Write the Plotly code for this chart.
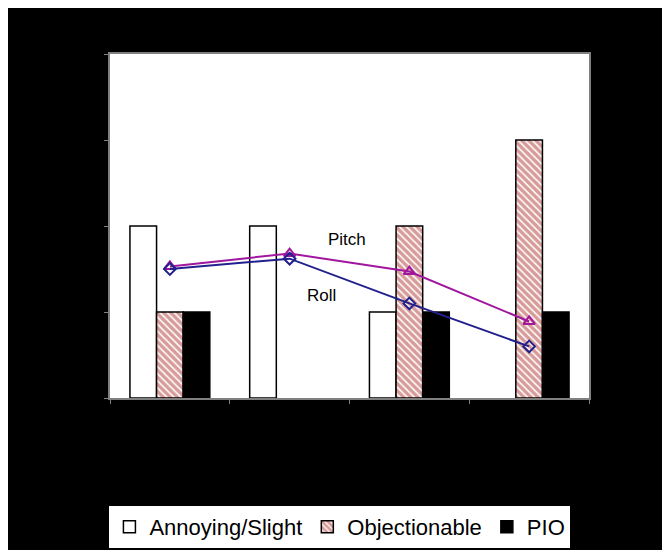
import plotly.graph_objects as go

categories = ["1", "2", "3", "4"]
annoying = [2, 2, 1, 0]
objectionable = [1, 0, 2, 3]
pio = [1, 0, 1, 1]
pitch = [1.53, 1.68, 1.47, 0.89]
roll = [1.50, 1.62, 1.10, 0.60]
y_ticks = [0, 1, 2, 3, 4]


def nz(vals):
    return [v if v else None for v in vals]


fig = go.Figure()
fig.add_trace(go.Bar(x=categories, y=nz(annoying), name="Annoying/Slight",
                     marker=dict(color="white", line=dict(color="black", width=1.5))))
fig.add_trace(go.Bar(x=categories, y=nz(objectionable), name="Objectionable",
                     marker=dict(color="white", line=dict(color="black", width=1.5),
                                 pattern=dict(shape="\\", fgcolor="#B03A36", bgcolor="white",
                                              size=5, solidity=0.7))))
fig.add_trace(go.Bar(x=categories, y=nz(pio), name="PIO",
                     marker=dict(color="black", line=dict(color="black", width=1.5))))
fig.add_trace(go.Scatter(x=categories, y=pitch, name="Pitch", mode="lines+markers",
                         showlegend=False,
                         line=dict(color="#A0169E", width=2),
                         marker=dict(symbol="triangle-up-open", size=10, color="#A0169E",
                                     line=dict(width=2))))
fig.add_trace(go.Scatter(x=categories, y=roll, name="Roll", mode="lines+markers",
                         showlegend=False,
                         line=dict(color="#22208C", width=2),
                         marker=dict(symbol="diamond-open", size=9, color="#22208C",
                                     line=dict(width=2))))

fig.add_annotation(x=1.475, y=1.84, text="Pitch", showarrow=False,
                   font=dict(size=17, color="black", family="Arial"))
fig.add_annotation(x=1.27, y=1.19, text="Roll", showarrow=False,
                   font=dict(size=17, color="black", family="Arial"))

fig.update_layout(
    width=670, height=550,
    margin=dict(l=102, r=89, t=46, b=159),
    paper_bgcolor="black", plot_bgcolor="white",
    barmode="group", bargap=0.333, bargroupgap=0,
    font=dict(family="Arial", color="black"),
    legend=dict(orientation="h", x=0.48, xanchor="center", y=-0.31, yanchor="top",
                bgcolor="white", font=dict(size=22, color="black", family="Arial"),
                itemclick=False, tracegroupgap=0),
    xaxis=dict(showline=True, linecolor="#808080", linewidth=2, mirror=True,
               ticks="outside", tickson="boundaries", ticklen=4, tickcolor="#808080",
               tickfont=dict(color="black"), showgrid=False),
    yaxis=dict(range=[0, 4], tickvals=y_ticks, showline=True, linecolor="#808080",
               linewidth=2, mirror=True, ticks="outside", ticklen=4, tickcolor="#808080",
               tickfont=dict(color="black"), showgrid=False, zeroline=False),
)

fig.write_html("out.html")
